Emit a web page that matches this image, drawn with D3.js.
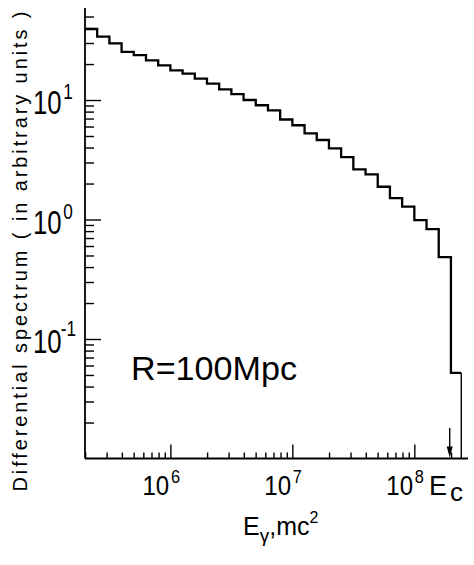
<!DOCTYPE html>
<html><head><meta charset="utf-8">
<script src="https://cdn.jsdelivr.net/npm/d3@7"></script>
<style>body{margin:0;background:#fff}svg{display:block}</style>
</head><body>
<script>
// ---- data ----
// bin edges as log10(E / mc^2); last edge is the cut-off energy Ec
const binEdgeExp = [5.3,5.4,5.5,5.6,5.7,5.8,5.9,6.0,6.1,6.2,6.3,6.4,6.5,6.6,6.7,6.8,6.9,7.0,
                    7.1,7.2,7.3,7.4,7.5,7.6,7.7,7.8,7.9,8.0,8.1,8.2,8.3,8.385];
// differential spectrum (arbitrary units), one value per bin
const spectrum = [39.3,33.9,29.8,25.3,23.8,21.5,19.5,17.7,16.6,15.1,13.7,12.3,11.2,10.0,9.04,8.20,
                  6.87,6.15,5.25,4.63,3.94,3.33,2.63,2.39,1.88,1.51,1.28,0.99,0.83,0.485,0.052];
const xTickExps = [6,7,8];
const xTickLabels = ["10","10","10"];
const xTickSups = ["6","7","8"];
const yTickExps = [1,0,-1];
const yTickSups = ["1","0","-1"];
const arrowExp = 8.29;
const xDomainExp = [5.3, 8.44];
const yDomain = [1e-2, 58.9];

const W = 474, H = 565;
const svg = d3.select("body").append("svg").attr("width", W).attr("height", H);
const font = "'Liberation Sans',Arial,Helvetica,sans-serif";

const x = d3.scaleLog().domain(xDomainExp.map(e => Math.pow(10, e))).range([85, 468]);
const y = d3.scaleLog().domain(yDomain).range([458.5, 8]);

const x0 = x.range()[0], x1 = x.range()[1];
const yb = y.range()[0], yt = y.range()[1];

// minor tick values
const xMinor = [], yMinor = [];
for (let d = 5; d <= 8; d++) for (let m = 2; m <= 9; m++) {
  const v = m * Math.pow(10, d);
  if (v > x.domain()[0] && v < x.domain()[1]) xMinor.push(v);
}
for (let d = -2; d <= 1; d++) for (let m = 2; m <= 9; m++) {
  const v = m * Math.pow(10, d);
  if (v > y.domain()[0] && v < y.domain()[1]) yMinor.push(v);
}

// axes
const gx = svg.append("g").attr("transform", `translate(0,${yb})`);
gx.call(d3.axisBottom(x).tickValues(xMinor).tickSizeInner(-6).tickSizeOuter(0).tickFormat(""));
const gx2 = svg.append("g").attr("transform", `translate(0,${yb})`);
gx2.call(d3.axisBottom(x).tickValues(xTickExps.map(e => Math.pow(10, e))).tickSizeInner(-14).tickSizeOuter(0).tickFormat(""));
const gy = svg.append("g").attr("transform", `translate(${x0},0)`);
gy.call(d3.axisLeft(y).tickValues(yMinor).tickSizeInner(-9).tickSizeOuter(0).tickFormat(""));
const gy2 = svg.append("g").attr("transform", `translate(${x0},0)`);
gy2.call(d3.axisLeft(y).tickValues(yTickExps.map(e => Math.pow(10, e))).tickSizeInner(-16).tickSizeOuter(0).tickFormat(""));
svg.selectAll(".domain").remove();
svg.selectAll(".tick line").attr("stroke", "#000").attr("stroke-width", 1.4);

svg.append("line").attr("x1", x0).attr("x2", x0).attr("y1", yt).attr("y2", yb)
  .attr("stroke", "#000").attr("stroke-width", 1.8);
svg.append("line").attr("x1", x0).attr("x2", x1).attr("y1", yb).attr("y2", yb)
  .attr("stroke", "#000").attr("stroke-width", 1.8);

// step histogram
const pts = spectrum.map((v, i) => [Math.pow(10, binEdgeExp[i]), v]);
pts.push([Math.pow(10, binEdgeExp[binEdgeExp.length - 1]), spectrum[spectrum.length - 1]]);
const line = d3.line().x(d => x(d[0])).y(d => y(d[1])).curve(d3.curveStepAfter);
svg.append("path").attr("d", line(pts)).attr("fill", "none").attr("stroke", "#000")
  .attr("stroke-width", 2.3).attr("stroke-linejoin", "miter");
// drop at Ec
const ecX = x(Math.pow(10, binEdgeExp[binEdgeExp.length - 1]));
svg.append("line").attr("x1", ecX).attr("x2", ecX)
  .attr("y1", y(spectrum[spectrum.length - 1])).attr("y2", yb)
  .attr("stroke", "#000").attr("stroke-width", 1.4);

// arrow
const ax = x(Math.pow(10, arrowExp));
svg.append("line").attr("x1", ax).attr("x2", ax).attr("y1", 428).attr("y2", yb - 6)
  .attr("stroke", "#000").attr("stroke-width", 1.4);
svg.append("path").attr("d", `M${ax-3},${yb-12} L${ax+3},${yb-12} L${ax},${yb-1} Z`).attr("fill", "#000");

// x tick labels: "10" with superscript exponent, one text element each
xTickExps.forEach((e, i) => {
  const px = x(Math.pow(10, e));
  const t = svg.append("text").attr("transform", `translate(${px - 28},495) scale(0.86,1)`)
    .attr("font-family", font).attr("font-size", 28);
  t.append("tspan").text(xTickLabels[i]);
  t.append("tspan").attr("dx", 2).attr("dy", -12).attr("font-size", 19).text(xTickSups[i]);
});
// Ec label
const ec = svg.append("text").attr("x", 429).attr("y", 495).attr("font-family", font).attr("font-size", 27);
ec.append("tspan").text("E");
ec.append("tspan").attr("dx", 3).attr("dy", 6).attr("font-size", 26).text("c");

// y tick labels
yTickExps.forEach((e, i) => {
  const py = y(Math.pow(10, e));
  const t = svg.append("text").attr("transform", `translate(33,${py + 14}) scale(0.78,1)`)
    .attr("font-family", font).attr("font-size", 33);
  t.append("tspan").text("10");
  t.append("tspan").attr("dx", e < 0 ? -1 : 2).attr("dy", e < 0 ? -17 : -15).attr("font-size", 22).text(yTickSups[i]);
});

// axis titles
svg.append("text").attr("transform", "translate(27,251.5) rotate(-90)").attr("text-anchor", "middle")
  .attr("font-family", font).attr("font-size", 20)
  .attr("textLength", 480).attr("lengthAdjust", "spacing")
  .text("Differential spectrum  ( in arbitrary units )");

const xt = svg.append("text").attr("x", 243).attr("y", 535).attr("font-family", font).attr("font-size", 25);
xt.append("tspan").text("E");
xt.append("tspan").attr("font-size", 19).attr("dy", 7).text("γ");
xt.append("tspan").attr("dy", -7).text(",mc");
xt.append("tspan").attr("font-size", 16).attr("dy", -12).text("2");

// annotation
svg.append("text").attr("x", 131).attr("y", 380).attr("font-family", font).attr("font-size", 33)
  .attr("textLength", 166).attr("lengthAdjust", "spacingAndGlyphs")
  .text("R=100Mpc");
</script>
</body></html>
